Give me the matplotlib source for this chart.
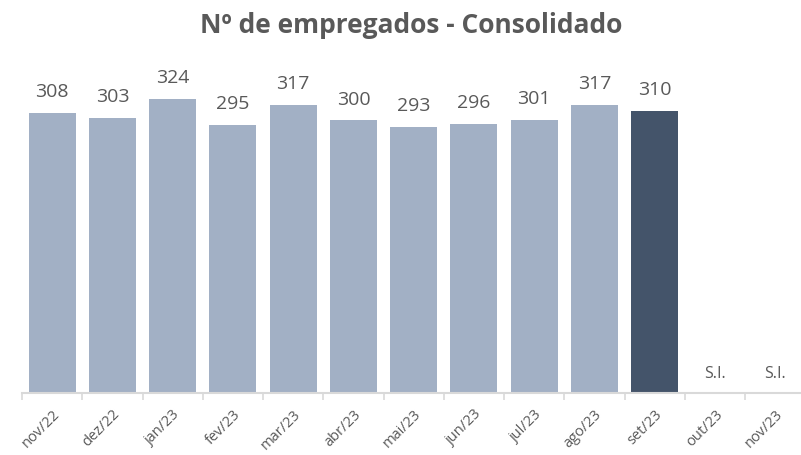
import numpy as np
import matplotlib.pyplot as plt
from matplotlib import font_manager as fm

# Data
months = ['nov/22', 'dez/22', 'jan/23', 'fev/23', 'mar/23', 'abr/23', 'mai/23',
          'jun/23', 'jul/23', 'ago/23', 'set/23', 'out/23', 'nov/23']
employees = [308, 303, 324, 295, 317, 300, 293, 296, 301, 317, 310, None, None]
highlight = 'set/23'

light = '#A2B0C5'
dark = '#44546A'
text_color = '#595959'


# pick the static Open Sans files (the variable one renders condensed)
def font_file(name):
    for f in fm.fontManager.ttflist:
        if f.fname.endswith(name):
            return f.fname
    return None


reg_path = font_file('OpenSans-Regular.ttf')
bold_path = font_file('OpenSans-Bold.ttf')


def fp(size, bold=False):
    path = bold_path if bold else reg_path
    if path:
        return fm.FontProperties(fname=path, size=size)
    return fm.FontProperties(family='DejaVu Sans', size=size,
                             weight='bold' if bold else 'normal')


fig = plt.figure(figsize=(8.01, 4.55), dpi=100)
ax = fig.add_axes([22 / 801, 62 / 455, 779 / 801, 318 / 455])

x = np.arange(len(months))
for i, (m, v) in enumerate(zip(months, employees)):
    if v is None:
        ax.text(i, 17, 'S.I.', ha='center', va='baseline', fontproperties=fp(11.5),
                color=text_color)
        continue
    ax.bar(i, v, width=0.78, color=dark if m == highlight else light)
    ax.text(i, v + 17.5, str(v), ha='center', va='baseline', fontproperties=fp(14),
            color=text_color)

ax.set_xlim(-0.5, -0.5 + 779 / 60.25)
ax.set_ylim(0, 350)

# ticks: labels at centers, marks at category boundaries
ax.set_xticks(x)
ax.set_xticklabels(months, rotation=45, ha='right', rotation_mode='anchor',
                   fontproperties=fp(10.5), color=text_color)
ax.tick_params(axis='x', which='major', length=0, pad=10)
ax.set_xticks(np.arange(len(months)) - 0.5, minor=True)
ax.tick_params(axis='x', which='minor', length=5, width=1.2, color='#D9D9D9')
ax.set_yticks([])

for s in ['top', 'right', 'left']:
    ax.spines[s].set_visible(False)
ax.spines['bottom'].set_color('#D9D9D9')
ax.spines['bottom'].set_linewidth(1.5)

fig.text(0.513, 1 - 33 / 455, 'Nº de empregados - Consolidado', ha='center',
         va='baseline', fontproperties=fp(19, bold=True), color=text_color)

fig.savefig('out.png', dpi=100)
